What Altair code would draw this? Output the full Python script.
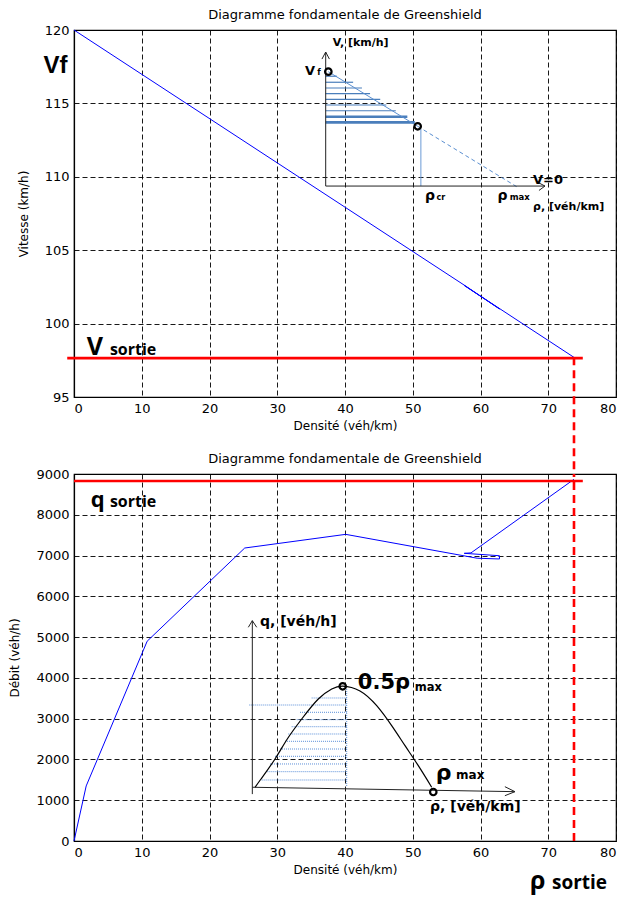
import altair as alt
import pandas as pd

# ---------------- data ----------------
# upper panel : speed vs density
rho_v = [0.0, 58.0, 62.8, 57.6, 73.8]
v_kmh = [120.0, 102.5, 101.0, 102.6, 97.7]
v_sortie = 97.65
# lower panel : flow vs density
rho_q = [0.0, 1.8, 10.8, 25.2, 40.1, 59.5, 62.8, 62.8, 57.6, 58.6, 73.8]
q_vh = [0, 1350, 4900, 7185, 7520, 6935, 6916, 6996, 7055, 7065, 8870]
q_sortie = 8830
rho_sortie = 73.8

# upper inset (schematic Greenshield speed-density)
ins1_axes = {"x": [37.15, 37.15, 36.6, 37.7, 68.63, 68.63],
             "x2": [37.15, 69.52, 37.15, 37.15, 69.52, 69.52],
             "y": [109.37, 109.37, 118.02, 118.02, 109.58, 109.07],
             "y2": [118.5, 109.37, 118.5, 118.5, 109.37, 109.37]}
ins1_vf = (37.54, 117.16)
ins1_cr = (50.73, 113.44)
ins1_end = (65.33, 109.33)
ins1_hatch_y = [116.85, 116.44, 116.05, 115.66, 115.28, 114.89, 114.50, 114.09, 113.71]
ins1_hatch_x2 = [38.8, 41.2, 42.5, 43.7, 45.2, 46.1, 47.5, 49.2, 50.3]
ins1_hatch_w = [1.2, 1.2, 1.2, 1.2, 1.2, 1.2, 1.2, 2.6, 2.6]
ins1_cr_line = (51.2, 113.26, 109.37)

# lower inset (schematic flow-density parabola)
ins2_axes = {"x": [26.32, 25.73, 26.97, 26.32, 63.6, 63.6],
             "x2": [26.32, 26.32, 26.32, 65.09, 65.09, 65.09],
             "y": [1150, 5241, 5241, 1318, 1332, 1111],
             "y2": [5403, 5403, 5403, 1210, 1210, 1210]}
ins2_rho = [26.72, 27.60, 29.67, 31.48, 33.61, 36.06, 38.04, 39.66, 42.21, 44.68, 46.89, 48.86, 50.82, 52.80]
ins2_q = [1317, 1520, 2011, 2501, 2992, 3483, 3728, 3800, 3680, 3318, 2828, 2337, 1847, 1317]
ins2_circles = {"x": [39.66, 53.03], "y": [3794, 1202]}
ins2_hatch_q = [3507, 3335, 3156, 2975, 2803, 2624, 2445, 2256, 2077, 1889, 1700, 1496]
ins2_hatch_x = [35.08, 25.87, 33.36, 32.87, 32.13, 31.63, 31.14, 30.41, 29.67, 28.93, 28.44, 27.70]
ins2_hatch_x2 = 40.25
ins2_vline = (40.25, 3728, 1325)

TITLE = "Diagramme fondamentale de Greenshield"
XTITLE = "Densité (véh/km)"
F = "DejaVu Sans"

# ---------------- scales / axes ----------------
XS = alt.Scale(domain=[0, 80], nice=False, zero=False)
YS_TOP = alt.Scale(domain=[95, 120], nice=False, zero=False)
YS_BOT = alt.Scale(domain=[0, 9000], nice=False, zero=False)
XAX = alt.Axis(values=list(range(0, 81, 10)), title=XTITLE, format="d")
YAX_TOP = alt.Axis(values=[95, 100, 105, 110, 115, 120], title="Vitesse (km/h)", format="d")
YAX_BOT = alt.Axis(values=list(range(0, 9001, 1000)), title="Débit (véh/h)", format="d")
PANEL = {"top": (YS_TOP, YAX_TOP), "bot": (YS_BOT, YAX_BOT)}


def X():
    return alt.X("x:Q", scale=XS, axis=XAX)


def Y(p):
    ys, ya = PANEL[p]
    return alt.Y("y:Q", scale=ys, axis=ya)


def segs(df, p, **mark):
    return alt.Chart(pd.DataFrame(df)).mark_rule(clip=False, **mark).encode(
        x=X(), x2="x2:Q", y=Y(p), y2="y2:Q")


def txt(xv, yv, t, p, **mark):
    df = pd.DataFrame({"x": xv, "y": yv, "t": t})
    return alt.Chart(df).mark_text(clip=False, **mark).encode(x=X(), y=Y(p), text="t:N")


def circles(xv, yv, p):
    df = pd.DataFrame({"x": xv, "y": yv})
    return alt.Chart(df).mark_point(shape="circle", filled=False, size=42, strokeWidth=2.2,
                                    color="black", opacity=1, clip=False).encode(x=X(), y=Y(p))


def path(xv, yv, p, **mark):
    df = pd.DataFrame({"x": xv, "y": yv, "o": list(range(len(xv)))})
    return alt.Chart(df).mark_line(clip=False, **mark).encode(x=X(), y=Y(p), order="o:Q")


# ---------------- upper panel ----------------
top_line = path(rho_v, v_kmh, "top", color="#0000ff", strokeWidth=1)
top_red = segs({"x": [-1.0], "x2": [75.1], "y": [v_sortie], "y2": [v_sortie]}, "top",
               color="#ff0000", strokeWidth=2.6)
# dashed exit line: upper part goes down to the lower panel's top edge (77 px gap)
top_dash = segs({"x": [rho_sortie], "x2": [rho_sortie], "y": [97.7], "y2": [89.75]}, "top",
                color="#ff0000", strokeWidth=2.6, strokeDash=[8, 5])

i1_axes = segs(ins1_axes, "top", color="#222222", strokeWidth=1)
i1_solid = segs({"x": [ins1_vf[0]], "x2": [ins1_cr[0]], "y": [ins1_vf[1]], "y2": [ins1_cr[1]]},
                "top", color="#5b8fd0", strokeWidth=1)
i1_dash = segs({"x": [ins1_cr[0]], "x2": [ins1_end[0]], "y": [ins1_cr[1]], "y2": [ins1_end[1]]},
               "top", color="#5b8fd0", strokeWidth=1, strokeDash=[4, 3])
i1_hatch = alt.Chart(pd.DataFrame({"x": [37.15] * len(ins1_hatch_y), "x2": ins1_hatch_x2,
                                   "y": ins1_hatch_y, "w": ins1_hatch_w})).mark_rule(
    color="#4a7ebb", clip=False).encode(
    x=X(), x2="x2:Q", y=Y("top"),
    strokeWidth=alt.StrokeWidth("w:Q", scale=None, legend=None),
)
i1_cr = segs({"x": [ins1_cr_line[0]], "x2": [ins1_cr_line[0]], "y": [ins1_cr_line[1]],
              "y2": [ins1_cr_line[2]]}, "top", color="#6a9ad6", strokeWidth=1)
i1_circ = circles([ins1_vf[0], ins1_cr[0]], [ins1_vf[1], ins1_cr[1]], "top")

t_top = [
    txt([38.2], [119.1], ["V, [km/h]"], "top", font=F, fontSize=11, fontWeight="bold", align="left"),
    txt([34.1], [117.2], ["V"], "top", font=F, fontSize=13, fontWeight="bold", align="left"),
    txt([35.9], [117.1], ["f"], "top", font=F, fontSize=8, fontWeight="bold", align="left"),
    txt([51.8, 62.5], [108.7, 108.7], ["ρ", "ρ"], "top", font=F, fontSize=14, fontWeight="bold", align="left"),
    txt([53.5], [108.55], ["cr"], "top", font=F, fontSize=8, fontWeight="bold", align="left"),
    txt([64.3], [108.6], ["max"], "top", font=F, fontSize=8.5, fontWeight="bold", align="left"),
    txt([67.75], [109.78], ["V=0"], "top", font=F, fontSize=13, fontWeight="bold", align="left"),
    txt([67.75], [107.95], ["ρ, [véh/km]"], "top", font=F, fontSize=11, fontWeight="bold", align="left"),
    txt([-2.73], [117.58], ["Vf"], "top", font="Liberation Sans", fontSize=24, fontWeight="bold",
        align="center"),
    txt([1.9], [97.85], ["V"], "top", font="Open Sans", fontSize=25, fontWeight="bold",
        align="left", baseline="alphabetic"),
    txt([5.3], [97.85], ["sortie"], "top", font="Open Sans", fontSize=16, fontWeight="bold",
        align="left", baseline="alphabetic"),
]

top = alt.layer(top_line, i1_hatch, i1_solid, i1_dash, i1_cr, i1_axes, i1_circ, *t_top,
                top_red, top_dash).properties(
    width=542, height=367,
    title=alt.TitleParams(TITLE, font=F, fontSize=13, fontWeight="normal", offset=2, color="black"),
)

# ---------------- lower panel ----------------
bot_line = path(rho_q, q_vh, "bot", color="#0000ff", strokeWidth=1)
bot_red = segs({"x": [0.0], "x2": [75.1], "y": [q_sortie], "y2": [q_sortie]}, "bot",
               color="#ff0000", strokeWidth=2.6)
bot_dash = segs({"x": [rho_sortie], "x2": [rho_sortie], "y": [0], "y2": [9000]}, "bot",
                color="#ff0000", strokeWidth=2.6, strokeDash=[8, 5])

i2_axes = segs(ins2_axes, "bot", color="#222222", strokeWidth=1)
i2_curve = path(ins2_rho, ins2_q, "bot", color="black", strokeWidth=1.2, interpolate="natural")
i2_hatch = segs({"x": ins2_hatch_x, "x2": [ins2_hatch_x2] * len(ins2_hatch_x),
                 "y": ins2_hatch_q, "y2": ins2_hatch_q}, "bot",
                color="#5b8fd8", strokeWidth=1, strokeDash=[1, 1])
i2_v = segs({"x": [ins2_vline[0]], "x2": [ins2_vline[0]], "y": [ins2_vline[1]], "y2": [ins2_vline[2]]},
            "bot", color="#5b8fd8", strokeWidth=1, strokeDash=[1, 1])
i2_circ = circles(ins2_circles["x"], ins2_circles["y"], "bot")

t_bot = [
    txt([27.45], [5380], ["q, [véh/h]"], "bot", font=F, fontSize=14, fontWeight="bold", align="left"),
    txt([41.9], [3875], ["0.5ρ"], "bot", font=F, fontSize=21, fontWeight="bold", align="left"),
    txt([50.3], [3752], ["max"], "bot", font=F, fontSize=11.5, fontWeight="bold", align="left"),
    txt([53.4], [1668], ["ρ"], "bot", font=F, fontSize=22, fontWeight="bold", align="left"),
    txt([56.4], [1619], ["max"], "bot", font=F, fontSize=12, fontWeight="bold", align="left"),
    txt([52.55], [834], ["ρ, [véh/km]"], "bot", font=F, fontSize=14, fontWeight="bold", align="left"),
    txt([2.46], [8191], ["q"], "bot", font="Open Sans", fontSize=22, fontWeight="bold",
        align="left", baseline="alphabetic"),
    txt([5.3], [8191], ["sortie"], "bot", font="Open Sans", fontSize=16, fontWeight="bold",
        align="left", baseline="alphabetic"),
    txt([67.3], [-1177], ["ρ"], "bot", font="Open Sans", fontSize=25, fontWeight="bold",
        align="left", baseline="alphabetic"),
    txt([70.55], [-1177], ["sortie"], "bot", font="Open Sans", fontSize=19, fontWeight="bold",
        align="left", baseline="alphabetic"),
]

bottom = alt.layer(bot_line, i2_hatch, i2_v, i2_curve, i2_axes, i2_circ, *t_bot,
                   bot_red, bot_dash).properties(
    width=542, height=367,
    title=alt.TitleParams(TITLE, font=F, fontSize=13, fontWeight="normal", offset=2, color="black"),
)

chart = alt.vconcat(top, bottom, spacing=77, bounds="flush").properties(
    padding={"left": 0, "top": 0, "right": 5, "bottom": 0},
    background="white",
).configure_view(
    stroke="black", strokeWidth=1.2
).configure_axis(
    labelFont=F, labelFontSize=13, labelColor="black", labelPadding=5,
    titleFont=F, titleFontSize=12, titleFontWeight="normal", titleColor="black",
    domainColor="black", domainWidth=1.2, ticks=False, grid=True,
    gridColor="black", gridDash=[5, 3], gridWidth=1, gridOpacity=0.9,
).configure_axisX(titlePadding=5).configure_axisY(titlePadding=14)

chart.save("out.html", embed_options={"renderer": "svg", "actions": False})
